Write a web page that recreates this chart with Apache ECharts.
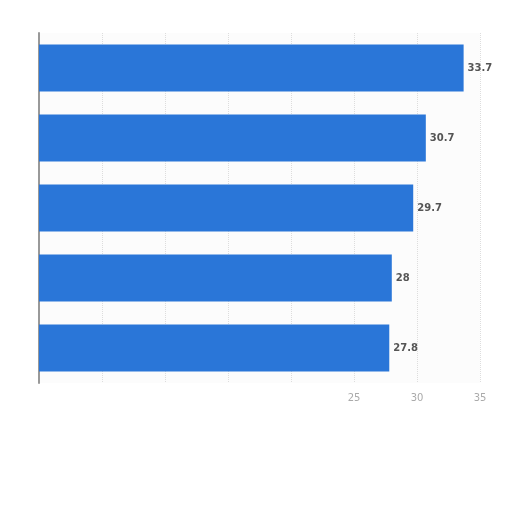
<!DOCTYPE html>
<html>
<head>
<meta charset="utf-8">
<script src="https://cdn.jsdelivr.net/npm/echarts@6/dist/echarts.min.js"></script>
<style>html,body{margin:0;padding:0;background:#fff}#c{width:512px;height:512px}</style>
</head>
<body>
<div id="c"></div>
<script>
const categories = ['Item 1', 'Item 2', 'Item 3', 'Item 4', 'Item 5'];
const values = [33.7, 30.7, 29.7, 28, 27.8];
const visibleTicks = [25, 30, 35];

const chart = echarts.init(document.getElementById('c'), null, {renderer: 'canvas'});
chart.setOption({
  backgroundColor: '#ffffff',
  animation: false,
  grid: {left: 39, right: 32, top: 33, bottom: 129, containLabel: false},
  xAxis: {
    type: 'value', min: 0, max: 35, interval: 5,
    axisLine: {show: false}, axisTick: {show: false},
    splitLine: {show: true, lineStyle: {color: '#dddddd', type: 'dotted', width: 1}},
    axisLabel: {
      color: '#aaaaaa', fontSize: 10, fontFamily: 'DejaVu Sans', margin: 10,
      formatter: v => visibleTicks.includes(v) ? String(v) : ''
    }
  },
  yAxis: {
    type: 'category', data: categories, inverse: true,
    axisLine: {show: true, lineStyle: {color: '#999999', width: 2}},
    axisTick: {show: false},
    axisLabel: {show: false},
    splitArea: {show: true, areaStyle: {color: ['#fcfcfc', '#fcfcfc']}}
  },
  series: [{
    type: 'bar',
    data: values,
    barWidth: '67%',
    itemStyle: {color: '#2a76d8'},
    label: {
      show: true, position: 'right', distance: 4,
      color: '#555555', fontSize: 10, fontWeight: 'bold', fontFamily: 'DejaVu Sans'
    }
  }]
});
</script>
</body>
</html>
